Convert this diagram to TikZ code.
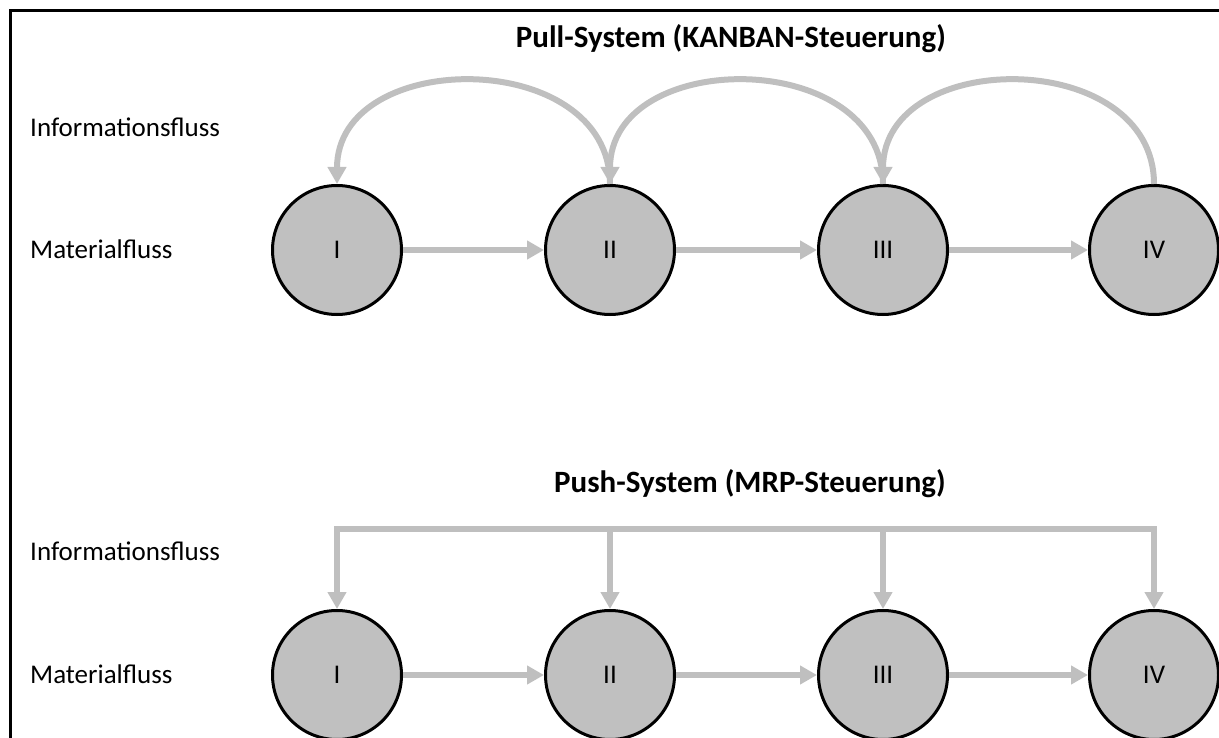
\documentclass[tikz,border=0pt]{standalone}
\usepackage{fontspec}
\setmainfont{Carlito}
\usetikzlibrary{arrows.meta}
\definecolor{procgray}{RGB}{192,192,192}
\definecolor{flowgray}{RGB}{191,191,191}
\begin{document}
\begin{tikzpicture}[x=1pt,y=-1pt,
  proc/.style={circle, draw=black, line width=3pt, fill=procgray, minimum size=129pt, inner sep=0pt, font=\fontsize{27}{32}\selectfont},
  flow/.style={draw=flowgray, line width=6pt, -{Triangle[length=17pt,width=18pt]}},
  busline/.style={draw=flowgray, line width=6pt, line cap=rect},
  lbl/.style={anchor=base west, font=\fontsize{27}{32}\selectfont, inner sep=0pt},
  ttl/.style={anchor=base east, font=\bfseries\fontsize{31}{36}\selectfont, inner sep=0pt},
  frame/.style={draw=black, line width=3pt}]
\useasboundingbox (0,0) rectangle (1219,738);
% frame
\coordinate (fbl) at (10.5,740);
\coordinate (ftl) at (10.5,10.5);
\coordinate (ftr) at (1221,10.5);
\draw[frame] (fbl) -- (ftl) -- (ftr);

% Pull system
\node[ttl] (t1) at (946,48) {Pull-System (KANBAN-Steuerung)};
\node[lbl] (i1) at (30,137) {Informationsfluss};
\node[lbl] (m1) at (30,259) {Materialfluss};
\node[proc] (p1) at (337,250) {I};
\node[proc] (p2) at (610,250) {II};
\node[proc] (p3) at (883,250) {III};
\node[proc] (p4) at (1154,250) {IV};
\draw[flow] (p1.east) -- (p2.west);
\draw[flow] (p2.east) -- (p3.west);
\draw[flow] (p3.east) -- (p4.west);
\draw[flow] (p2.north) .. controls +(0,-137) and +(0,-137) .. (p1.north);
\draw[flow] (p3.north) .. controls +(0,-137) and +(0,-137) .. (p2.north);
\draw[flow] (p4.north) .. controls +(0,-137) and +(0,-137) .. (p3.north);

% Push system
\node[ttl] (t2) at (946,492) {Push-System (MRP-Steuerung)};
\node[lbl] (i2) at (30,560) {Informationsfluss};
\node[lbl] (m2) at (30,683) {Materialfluss};
\node[proc] (q1) at (337,675) {I};
\node[proc] (q2) at (610,675) {II};
\node[proc] (q3) at (883,675) {III};
\node[proc] (q4) at (1154,675) {IV};
\coordinate (b1) at (337,529);
\coordinate (b2) at (610,529);
\coordinate (b3) at (883,529);
\coordinate (b4) at (1154,529);
\draw[busline] (b1) -- (b4);
\draw[flow] (b1) -- (q1.north);
\draw[flow] (b2) -- (q2.north);
\draw[flow] (b3) -- (q3.north);
\draw[flow] (b4) -- (q4.north);
\draw[flow] (q1.east) -- (q2.west);
\draw[flow] (q2.east) -- (q3.west);
\draw[flow] (q3.east) -- (q4.west);
\end{tikzpicture}
\end{document}
